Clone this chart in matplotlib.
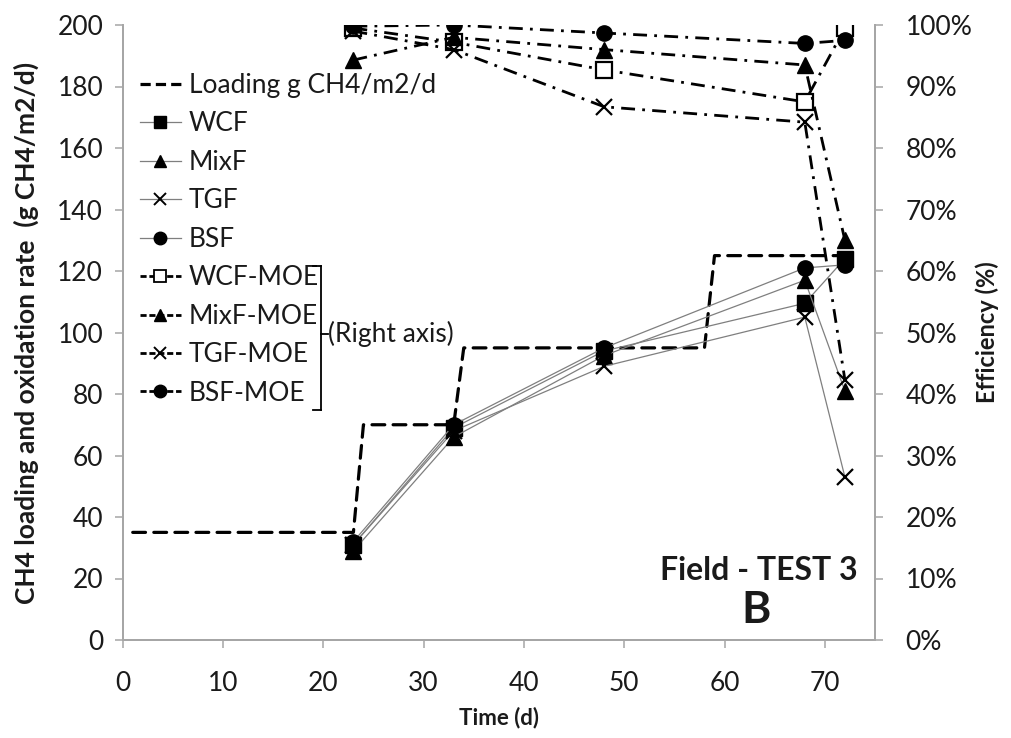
import matplotlib
matplotlib.use("Agg")
import matplotlib.pyplot as plt
from matplotlib.lines import Line2D
from matplotlib.ticker import PercentFormatter, MultipleLocator

plt.rcParams['font.family'] = ['Lato', 'DejaVu Sans']

# CH4 loading (step profile), g CH4/m2/d
load_days = [1, 23, 24, 33, 34, 58, 59, 72]
load_vals = [35, 35, 70, 70, 95, 95, 125, 125]

# Sampling days
days = [23, 33, 48, 68, 72]

# Oxidation rates, g CH4/m2/d (left axis)
wcf = [31, 69, 94, 109.5, 124]
mixf = [29, 66, 92.5, 117, 81]
tgf = [31, 68, 89, 105, 53]
bsf = [32, 70, 95, 121, 122]

# Methane oxidation efficiencies, % (right axis)
wcf_moe = [99.5, 97.2, 92.7, 87.5, 99.5]
mixf_moe = [94.3, 98.0, 96.0, 93.5, 65.0]
tgf_moe = [99.0, 96.0, 86.7, 84.2, 42.3]
bsf_moe = [99.8, 100.0, 98.7, 97.0, 97.5]

W, H = 1011, 738
fig = plt.figure(figsize=(W / 100, H / 100), dpi=100)
ax = fig.add_axes([122.7 / W, 1 - 640 / H, (875 - 122.7) / W, (640 - 25) / H])
ax2 = ax.twinx()

spine_c = '#a6a6a6'
txt_c = '#1a1a1a'
fs = 19

ax.set_xlim(0, 75)
ax.set_ylim(0, 200)
ax2.set_ylim(0, 100)
ax.xaxis.set_major_locator(MultipleLocator(10))
ax.yaxis.set_major_locator(MultipleLocator(20))
ax2.yaxis.set_major_locator(MultipleLocator(10))
ax2.yaxis.set_major_formatter(PercentFormatter(decimals=0))

for a in (ax, ax2):
    for s in a.spines.values():
        s.set_color(spine_c)
        s.set_linewidth(1.3)
    a.spines['top'].set_visible(False)
    a.tick_params(colors=spine_c, labelcolor=txt_c, labelsize=fs,
                  length=6, width=1.1, direction='out')
ax.tick_params(axis='x', pad=16)
ax.tick_params(axis='y', pad=8)
ax2.tick_params(axis='y', pad=16)

# Loading profile
ax.plot(load_days, load_vals, color='black', lw=2.3, dashes=(4, 2.6),
        solid_capstyle='round', dash_capstyle='round', zorder=3)

ms = 11
solid_kw = dict(color='#7f7f7f', lw=0.9, markerfacecolor='black',
                markeredgecolor='black', markersize=ms, zorder=4)
ax.plot(days, wcf, marker='s', **solid_kw)
ax.plot(days, mixf, marker='^', **solid_kw)
ax.plot(days, tgf, marker='x', markeredgewidth=1.6, **solid_kw)
ax.plot(days, bsf, marker='o', **solid_kw)

dd = (5, 2.6, 1, 2.6)
moe_kw = dict(color='black', lw=2.0, dashes=dd, markersize=ms, zorder=5)
ax2.plot(days, wcf_moe, marker='s', markerfacecolor='white',
         markeredgecolor='black', markeredgewidth=1.6, **moe_kw)
ax2.plot(days, mixf_moe, marker='^', markerfacecolor='black',
         markeredgecolor='black', **moe_kw)
ax2.plot(days, tgf_moe, marker='x', markeredgecolor='black',
         markeredgewidth=1.6, **moe_kw)
ax2.plot(days, bsf_moe, marker='o', markerfacecolor='black',
         markeredgecolor='black', **moe_kw)

ax.set_xlabel('Time (d)', fontsize=16, fontweight='bold', color=txt_c, labelpad=8)
ax.set_ylabel('CH4 loading and oxidation rate  (g CH4/m2/d)', fontsize=19,
              fontweight='bold', color=txt_c, labelpad=13)
ax2.set_ylabel('Efficiency (%)', fontsize=17, fontweight='bold', color=txt_c,
               labelpad=2)

# Legend
hs = 9
handles = [
    Line2D([], [], color='black', lw=2.3, dashes=(3.2, 1.6)),
    Line2D([], [], color='#7f7f7f', lw=0.9, marker='s', mfc='black', mec='black', markersize=hs),
    Line2D([], [], color='#7f7f7f', lw=0.9, marker='^', mfc='black', mec='black', markersize=hs),
    Line2D([], [], color='#7f7f7f', lw=0.9, marker='x', mec='black', mew=1.4, markersize=hs),
    Line2D([], [], color='#7f7f7f', lw=0.9, marker='o', mfc='black', mec='black', markersize=hs),
    Line2D([], [], color='black', lw=2.0, dashes=(2.2, 1.0), marker='s', mfc='white', mec='black', mew=1.3, markersize=hs - 1),
    Line2D([], [], color='black', lw=2.0, dashes=(2.2, 1.0), marker='^', mfc='black', mec='black', markersize=hs),
    Line2D([], [], color='black', lw=2.0, dashes=(2.2, 1.0), marker='x', mec='black', mew=1.4, markersize=hs),
    Line2D([], [], color='black', lw=2.0, dashes=(2.2, 1.0), marker='o', mfc='black', mec='black', markersize=hs),
]
labels = ['Loading g CH4/m2/d', 'WCF', 'MixF', 'TGF', 'BSF',
          'WCF-MOE', 'MixF-MOE', 'TGF-MOE', 'BSF-MOE']
leg = ax2.legend(handles, labels, loc='upper left', frameon=False,
                 bbox_to_anchor=(140 / W, 1 - 73 / H), bbox_transform=fig.transFigure,
                 fontsize=fs, handlelength=1.55, handletextpad=0.3,
                 labelspacing=0.51, borderaxespad=0, borderpad=0)
for t in leg.get_texts():
    t.set_color(txt_c)


def px(x, y):
    return x / W, 1 - y / H


# Bracket grouping the right-axis series
bx, by0, by1, bym = 321, 266, 410, 334
for xs, ys in [((bx, bx), (by0, by1)), ((bx - 8, bx), (by0, by0)),
               ((bx - 8, bx), (by1, by1)), ((bx, bx + 7), (bym, bym))]:
    fig.add_artist(Line2D([xs[0] / W, xs[1] / W], [1 - ys[0] / H, 1 - ys[1] / H],
                          transform=fig.transFigure, color='black', lw=1.3))
fig.text(*px(328, bym), '(Right axis)', fontsize=fs, color=txt_c, va='center', ha='left')

fig.text(*px(858, 570), 'Field - TEST 3', fontsize=23, fontweight='bold',
         color=txt_c, ha='right', va='center')
fig.text(*px(756, 610), 'B', fontsize=32, fontweight='bold', color=txt_c,
         ha='center', va='center')

fig.savefig('out.png', dpi=100)
